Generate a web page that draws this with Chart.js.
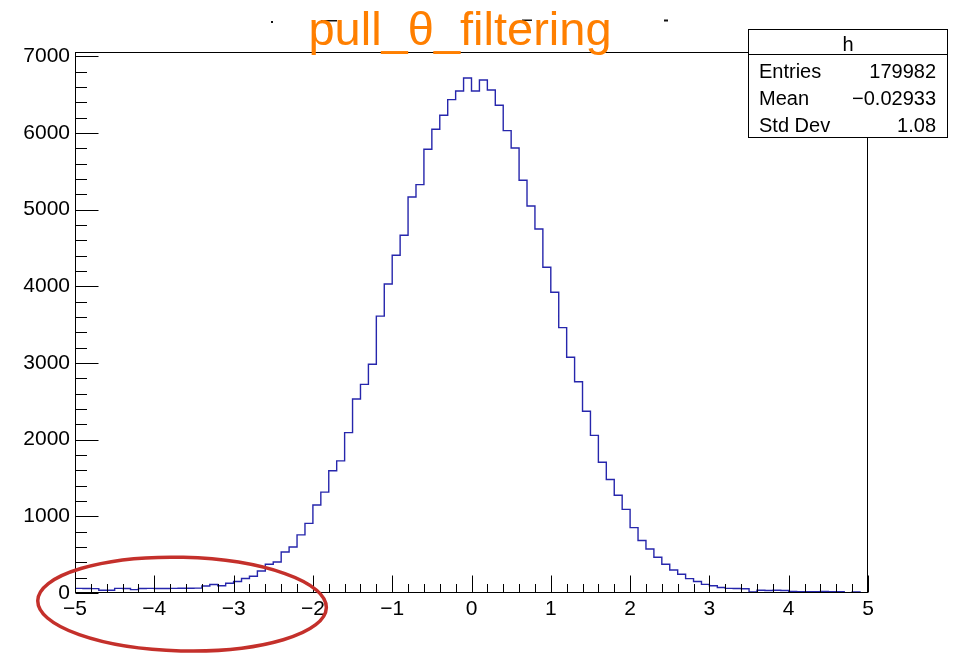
<!DOCTYPE html>
<html>
<head>
<meta charset="utf-8">
<script src="https://cdn.jsdelivr.net/npm/chart.js@4.4.1/dist/chart.umd.min.js"></script>
<style>
  html, body { margin: 0; padding: 0; background: #fff; }
  #wrap { width: 954px; height: 654px; position: relative; }
</style>
</head>
<body>
<div id="wrap"><canvas id="hist"></canvas></div>
<script>
// --- histogram data (100 bins from -5 to 5) ---
const xMin = -5;
const xMax = 5;
const binWidth = 0.1;
const counts = [
  60, 58, 57, 35, 36, 60, 58, 44, 58, 60,
  59, 58, 60, 61, 62, 64, 92, 110, 95, 128,
  150, 190, 218, 287, 374, 405, 534, 600, 758, 908,
  1147, 1316, 1595, 1723, 2092, 2530, 2720, 2984, 3610, 4030,
  4404, 4665, 5164, 5326, 5787, 6048, 6230, 6434, 6547, 6716,
  6547, 6690, 6560, 6360, 6030, 5804, 5382, 5047, 4747, 4248,
  3922, 3461, 3075, 2755, 2370, 2055, 1705, 1480, 1275, 1091,
  852, 684, 574, 466, 374, 300, 244, 188, 150, 113,
  95, 72, 60, 58, 56, 15, 35, 33, 35, 32,
  20, 18, 17, 18, 19, 17, 18, 4, 15, 3
];
const xTicks = [-5, -4, -3, -2, -1, 0, 1, 2, 3, 4, 5];
const yTicks = [0, 1000, 2000, 3000, 4000, 5000, 6000, 7000];
const xMinorStep = 0.2;
const yMinorStep = 200;
const yMax = 7055;

const titleText = 'pull_\u03b8_filtering';
const statsName = 'h';
const statsLabels = ['Entries', 'Mean', 'Std Dev'];
const statsValues = ['179982', '\u22120.02933', '1.08'];

// red ring drawn over the left tail (data coordinates)
const ringCenter = { x: -3.65, y: -145 };
const ringRadius = { x: 1.82, y: 610 };

// outline points: each bin's low edge, plus the top edge of the last bin
const points = counts.map((c, i) => ({ x: xMin + i * binWidth, y: c }));
points.push({ x: xMax, y: counts[counts.length - 1] });

const FONT = "'Liberation Sans', Arial, sans-serif";
const fmt = v => (v < 0 ? '\u2212' + Math.abs(v) : String(v));

// --- ROOT style frame, inward ticks, stats box, title ---
const rootFrame = {
  id: 'rootFrame',
  afterDraw(chart) {
    const ctx = chart.ctx;
    const a = chart.chartArea;
    const xs = chart.scales.x;
    const ys = chart.scales.y;
    ctx.save();
    ctx.strokeStyle = '#000';
    ctx.lineWidth = 1;

    // frame
    const L = Math.round(a.left) + 0.5, R = Math.round(a.right) - 0.5;
    const T = Math.round(a.top) + 0.5, B = Math.round(a.bottom) - 0.5;
    ctx.strokeRect(L, T, R - L, B - T);

    // x ticks (major + minor), pointing up into the frame
    ctx.beginPath();
    for (let v = xMin; v <= xMax + 1e-9; v += xMinorStep) {
      const px = Math.round(xs.getPixelForValue(v)) + 0.5;
      const major = Math.abs(v - Math.round(v)) < 1e-6;
      ctx.moveTo(px, B);
      ctx.lineTo(px, B - (major ? 17 : 8.5));
    }
    // y ticks, pointing right into the frame
    for (let v = 0; v <= yMax; v += yMinorStep) {
      const py = Math.round(ys.getPixelForValue(v)) + 0.5;
      const major = v % 1000 === 0;
      ctx.moveTo(L, py);
      ctx.lineTo(L + (major ? 23 : 11.5), py);
    }
    ctx.stroke();

    // red ring
    const cx = xs.getPixelForValue(ringCenter.x);
    const cy = ys.getPixelForValue(ringCenter.y);
    const rx = xs.getPixelForValue(ringCenter.x + ringRadius.x) - cx;
    const ry = cy - ys.getPixelForValue(ringCenter.y + ringRadius.y);
    ctx.beginPath();
    ctx.ellipse(cx, cy, rx, ry, 0.025, 0, Math.PI * 2);
    ctx.strokeStyle = '#c4302b';
    ctx.lineWidth = 3.5;
    ctx.stroke();

    // stats box
    ctx.strokeStyle = '#000';
    ctx.lineWidth = 1;
    ctx.fillStyle = '#fff';
    ctx.fillRect(748.5, 29.5, 199, 108);
    ctx.strokeRect(748.5, 29.5, 199, 108);
    ctx.beginPath();
    ctx.moveTo(748.5, 54.5);
    ctx.lineTo(947.5, 54.5);
    ctx.stroke();
    ctx.fillStyle = '#000';
    ctx.font = '20px ' + FONT;
    ctx.textBaseline = 'alphabetic';
    ctx.textAlign = 'center';
    ctx.fillText(statsName, 848, 51);
    statsLabels.forEach((lab, i) => {
      const by = 77.5 + i * 27;
      ctx.textAlign = 'left';
      ctx.fillText(lab, 759, by);
      ctx.textAlign = 'right';
      ctx.fillText(statsValues[i], 936, by);
    });

    // leftover marks of the title pave
    ctx.fillStyle = '#111';
    ctx.fillRect(271, 21, 2, 2);
    ctx.fillRect(321, 20, 16, 1.5);
    ctx.fillRect(522, 19.5, 10, 1.5);
    ctx.fillRect(664, 19.5, 4, 2);

    // title
    ctx.fillStyle = '#ff7f00';
    ctx.font = '47px ' + FONT;
    ctx.textAlign = 'center';
    ctx.fillText(titleText, 460, 44.5);
    ctx.restore();
  }
};

const ctx = document.getElementById('hist').getContext('2d');
const hist = new Chart(ctx, {
  type: 'line',
  data: {
    datasets: [{
      data: points,
      stepped: 'before',
      borderColor: '#2626ac',
      borderWidth: 1.4,
      pointRadius: 0,
      fill: false,
      tension: 0
    }]
  },
  options: {
    responsive: true,
    maintainAspectRatio: false,
    animation: false,
    events: [],
    layout: { padding: { top: 52, right: 86, left: 0, bottom: 0 } },
    plugins: { legend: { display: false }, tooltip: { enabled: false }, title: { display: false } },
    scales: {
      x: {
        type: 'linear',
        min: xMin,
        max: xMax,
        grid: { display: false, drawTicks: false },
        border: { display: false },
        afterBuildTicks: s => { s.ticks = xTicks.map(v => ({ value: v })); },
        afterFit: s => { s.height = 61; },
        ticks: {
          padding: 4,
          maxRotation: 0,
          autoSkip: false,
          color: '#000',
          font: { family: FONT, size: 21 },
          callback: v => fmt(v)
        }
      },
      y: {
        type: 'linear',
        min: 0,
        max: yMax,
        grid: { display: false, drawTicks: false },
        border: { display: false },
        afterBuildTicks: s => { s.ticks = yTicks.map(v => ({ value: v })); },
        afterFit: s => { s.width = 75; },
        ticks: {
          padding: 5,
          autoSkip: false,
          color: '#000',
          font: { family: FONT, size: 21 },
          callback: v => String(v)
        }
      }
    }
  },
  plugins: [rootFrame]
});
</script>
</body>
</html>
